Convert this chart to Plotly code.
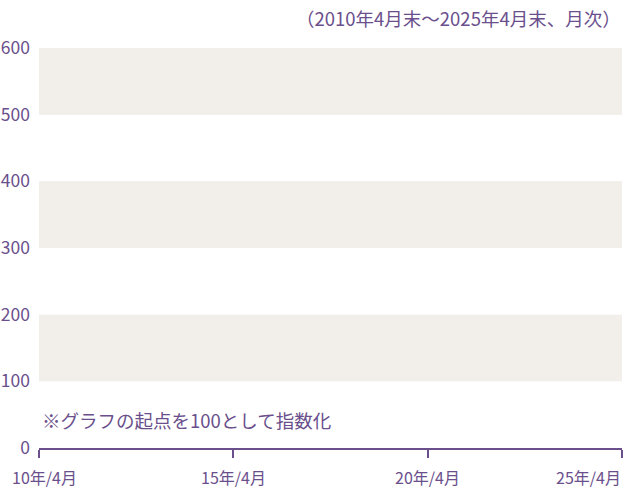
import plotly.graph_objects as go

# axis setup (chart has no series yet, only the index frame)
x_start = "2010-04-01"
x_end = "2025-04-01"
x_tick_dates = ["2010-04-01", "2015-04-01", "2020-04-01", "2025-04-01"]
x_tick_labels = ["10年/4月", "15年/4月", "20年/4月", "25年/4月"]
y_ticks = [0, 100, 200, 300, 400, 500, 600]
band_ranges = [(100, 200), (300, 400), (500, 600)]

subtitle = "（2010年4月末〜2025年4月末、月次）"
note = "※グラフの起点を100として指数化"

PURPLE = "#6a4f8c"
BAND = "#f2eee9"
FONT = "Noto Sans CJK JP"

fig = go.Figure()

# invisible trace so the axes get drawn
fig.add_trace(go.Scatter(x=[x_start, x_end], y=[None, None], mode="lines", showlegend=False, hoverinfo="skip"))

for lo, hi in band_ranges:
    fig.add_shape(type="rect", xref="paper", yref="y", x0=0, x1=1, y0=lo, y1=hi,
                  fillcolor=BAND, line_width=0, layer="below")

# x tick labels as annotations so the end labels stay inside the frame
for i, (d, t) in enumerate(zip(x_tick_dates, x_tick_labels)):
    anchor = "center"
    xs = 0
    if i == 0:
        anchor = "left"
        xs = -29
    elif i == len(x_tick_dates) - 1:
        anchor = "right"
        xs = 1
    fig.add_annotation(x=d, y=0, xref="x", yref="y", text=t, showarrow=False,
                       xanchor=anchor, yanchor="middle", xshift=xs, yshift=-29,
                       font=dict(family=FONT, size=16, color=PURPLE))

fig.add_annotation(x=1, y=1, xref="paper", yref="paper", text=subtitle, showarrow=False,
                   xanchor="right", yanchor="middle", xshift=1, yshift=30,
                   font=dict(family=FONT, size=18.5, color=PURPLE))
fig.add_annotation(x=0, y=42, xref="paper", yref="y", text=note, showarrow=False,
                   xanchor="left", yanchor="middle", xshift=1,
                   font=dict(family=FONT, size=18.5, color=PURPLE))

fig.update_xaxes(range=[x_start, x_end], tickvals=x_tick_dates, showticklabels=False,
                 ticks="outside", ticklen=8, tickwidth=1.5, tickcolor=PURPLE,
                 showline=True, linecolor=PURPLE, linewidth=2, showgrid=False, zeroline=False)
fig.update_yaxes(range=[0, 600], tickvals=y_ticks, ticks="", showline=False, showgrid=False,
                 zeroline=False, ticklabelstandoff=8,
                 tickfont=dict(family=FONT, size=17.5, color=PURPLE))

fig.update_layout(
    width=624, height=488,
    margin=dict(l=39, r=2, t=48, b=40),
    plot_bgcolor="white", paper_bgcolor="white",
    font=dict(family=FONT, color=PURPLE),
)

# drop the default page margin so the 624x488 figure fills the window
fig.write_html("out.html", config={"displayModeBar": False},
               post_script="document.body.style.margin='0';document.body.style.overflow='hidden';")
